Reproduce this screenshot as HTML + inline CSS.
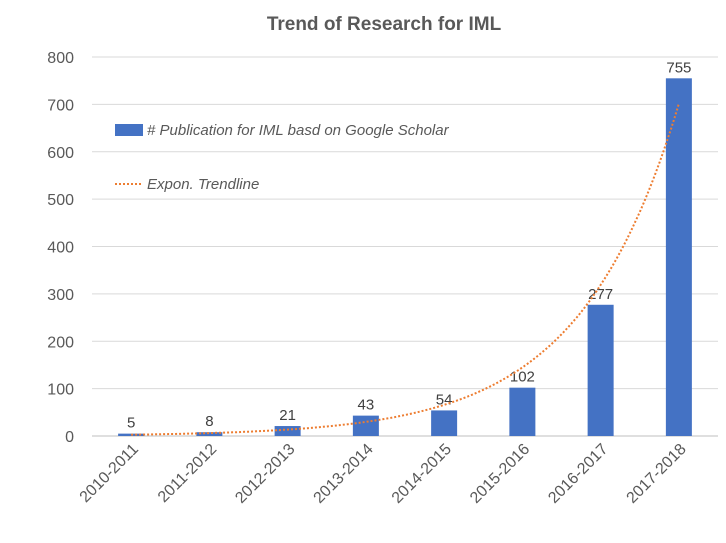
<!DOCTYPE html>
<html><head><meta charset="utf-8"><style>
body{margin:0;background:#fff;}
svg text{font-family:"Liberation Sans",sans-serif;}
</style></head><body>
<svg width="726" height="538">
<text x="384" y="30" text-anchor="middle" font-size="19" font-weight="bold" fill="#595959">Trend of Research for IML</text>
<g id="grid"></g><g id="bars"></g><g id="labels"></g>
<path id="trend" fill="none" stroke="#ED7D31" stroke-width="2" stroke-dasharray="2,2"/>
<g>
<rect x="115" y="124" width="28" height="12" fill="#4472C4"/>
<text x="147" y="135" font-size="15" font-style="italic" fill="#595959"># Publication for IML basd on Google Scholar</text>
<line x1="115" y1="184" x2="143" y2="184" stroke="#ED7D31" stroke-width="2" stroke-dasharray="2,2"/>
<text x="147" y="189" font-size="15" font-style="italic" fill="#595959">Expon. Trendline</text>
</g>
</svg>
<script>
const categories=["2010-2011","2011-2012","2012-2013","2013-2014","2014-2015","2015-2016","2016-2017","2017-2018"];
const values=[5,8,21,43,54,102,277,755];
const yTicks=[0,100,200,300,400,500,600,700,800];
const NS="http://www.w3.org/2000/svg";
const x0=92,x1=718,y0=436,yTop=57,yMax=800;
const step=(x1-x0)/categories.length;
const xs=i=>x0+step*(i+0.5);
const ys=v=>y0-(v/yMax)*(y0-yTop);
function mk(t,a,p){const e=document.createElementNS(NS,t);for(const k in a)e.setAttribute(k,a[k]);p.appendChild(e);return e;}
const grid=document.getElementById('grid'),bars=document.getElementById('bars'),labels=document.getElementById('labels');
yTicks.forEach(v=>{
 const l=mk('line',{x1:x0,x2:x1,y1:ys(v),y2:ys(v),stroke:v===0?'#BFBFBF':'#D9D9D9','stroke-width':1},grid);
 
 
 const t=mk('text',{x:74,y:ys(v)+6,'text-anchor':'end','font-size':16,fill:'#595959'},grid);
 t.textContent=v;
 
 
});
const bw=26;
values.forEach((v,i)=>{
 const r=mk('rect',{x:xs(i)-bw/2,y:ys(v),width:bw,height:y0-ys(v),fill:'#4472C4'},bars);
 
 
 const t=mk('text',{x:xs(i),y:ys(v)-6,'text-anchor':'middle','font-size':15,fill:'#404040'},labels);
 t.textContent=v;
 
 
 const c=mk('text',{x:xs(i)+8,y:y0+14,'text-anchor':'end','font-size':16,fill:'#595959',transform:`rotate(-45 ${xs(i)+8} ${y0+14})`},labels);
 c.textContent=categories[i];
 
 
});
// weighted log-space exponential fit
let sw=0,sx=0,sy=0,sxx=0,sxy=0;
values.forEach((v,i)=>{const x=i+1,w=v,l=Math.log(v);sw+=w;sx+=w*x;sy+=w*l;sxx+=w*x*x;sxy+=w*x*l;});
const b=(sw*sxy-sx*sy)/(sw*sxx-sx*sx),a=(sy-b*sx)/sw;
let d='';
for(let k=0;k<=140;k++){const x=1+k*7/140;const v=Math.exp(a+b*x);d+=(k?'L':'M')+(x0+step*(x-0.5)).toFixed(1)+','+ys(v).toFixed(1);}
document.getElementById('trend').setAttribute('d',d);
</script>
</body></html>
